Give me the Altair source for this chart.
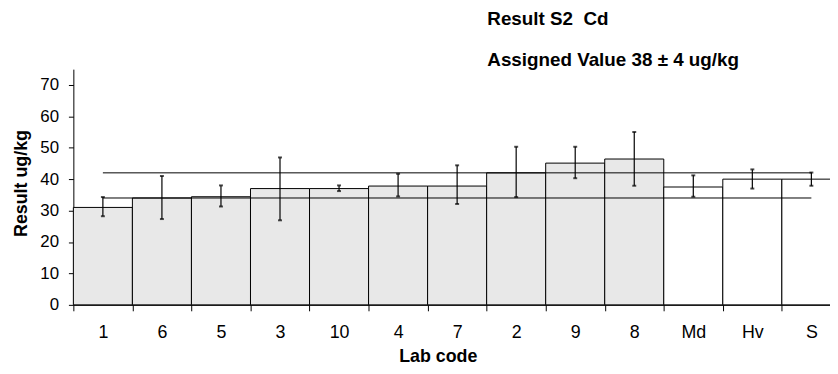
import altair as alt
import pandas as pd

# ---- data ----
labs = ["1", "6", "5", "3", "10", "4", "7", "2", "9", "8", "Md", "Hv", "S"]
kinds = ["lab"] * 10 + ["stat"] * 3
results = [31.0, 34.0, 34.4, 37.0, 37.0, 37.8, 37.8, 42.0, 45.1, 46.4, 37.5, 40.0, 40.0]
err_low = [28.2, 27.3, 31.3, 26.9, 36.2, 34.5, 32.1, 34.3, 40.3, 37.9, 34.4, 37.0, 37.9]
err_high = [34.3, 41.0, 38.0, 46.9, 38.0, 41.7, 44.4, 50.3, 50.3, 55.0, 41.2, 43.1, 42.1]
y_ticks = [0, 10, 20, 30, 40, 50, 60, 70]

assigned = 38
uncert = 4
limit_values = [assigned + uncert, assigned - uncert]

df = pd.DataFrame({"lab": labs, "kind": kinds, "result": results,
                   "lo": err_low, "hi": err_high})
lines_df = pd.DataFrame({"y": limit_values, "x1": [labs[0]] * 2, "x2": [labs[-1]] * 2})

FONT = "Liberation Sans"

xscale = alt.Scale(domain=labs, paddingInner=0, paddingOuter=0, rangeMax=775)
yscale = alt.Scale(domain=[0, 75], nice=False, zero=True)

x_axis = alt.Axis(
    title="Lab code", titleFontSize=18, titleFontWeight="bold", titleColor="black",
    titleX=368, titleY=57.5, titleBaseline="alphabetic", titleAlign="center",
    labelFontSize=18, labelColor="black", labelAngle=0, labelPadding=13,
    tickBand="extent", tickSize=6, tickColor="black", domainColor="black",
    labelFont=FONT, titleFont=FONT,
)
y_axis = alt.Axis(
    title="Result ug/kg", titleFontSize=18, titleFontWeight="bold", titleColor="black",
    titleX=-47, titleY=115, titleBaseline="alphabetic", titleAngle=-90, titleAlign="center",
    values=y_ticks, grid=False, labelOverlap=False,
    labelFontSize=17, labelColor="black", labelPadding=10,
    tickSize=5, tickColor="black", domainColor="black",
    labelFont=FONT, titleFont=FONT,
)

X = lambda f: alt.X(f, type="nominal", scale=xscale, axis=x_axis, sort=labs)
Y = lambda f: alt.Y(f, type="quantitative", scale=yscale, axis=y_axis)

bars = alt.Chart(df).mark_bar(stroke="black", strokeWidth=1).encode(
    x=X("lab"),
    y=Y("result"),
    fill=alt.Fill("kind:N", scale=alt.Scale(domain=["lab", "stat"], range=["#e8e8e8", "#ffffff"]), legend=None),
)

limits = alt.Chart(lines_df).mark_rule(color="black", strokeWidth=1).encode(
    x=X("x1"), x2="x2:N", y=Y("y"),
)

err = alt.Chart(df).mark_rule(color="black", strokeWidth=1.2).encode(
    x=X("lab"), y=Y("lo"), y2="hi:Q",
)
cap_lo = alt.Chart(df).mark_tick(color="black", size=4, thickness=2).encode(
    x=X("lab"), y=Y("lo"),
)
cap_hi = alt.Chart(df).mark_tick(color="black", size=4, thickness=2).encode(
    x=X("lab"), y=Y("hi"),
)

chart = alt.layer(bars, limits, err, cap_lo, cap_hi).properties(
    width=764, height=238,
    autosize=alt.AutoSizeParams(type="none"),
    padding={"left": 66, "top": 60, "right": 0, "bottom": 60},
    title=alt.TitleParams(
        text="Result S2\u00a0\u00a0Cd", subtitle="Assigned Value 38 ± 4 ug/kg",
        anchor="start", frame="group", dx=418, offset=-1,
        font=FONT, fontSize=19, fontWeight="bold", color="black",
        subtitleFont=FONT, subtitleFontSize=19, subtitleFontWeight="bold",
        subtitleColor="black", subtitlePadding=23,
    ),
).configure_view(stroke=None)

chart.save("out.html", embed_options={"renderer": "svg", "actions": False})
